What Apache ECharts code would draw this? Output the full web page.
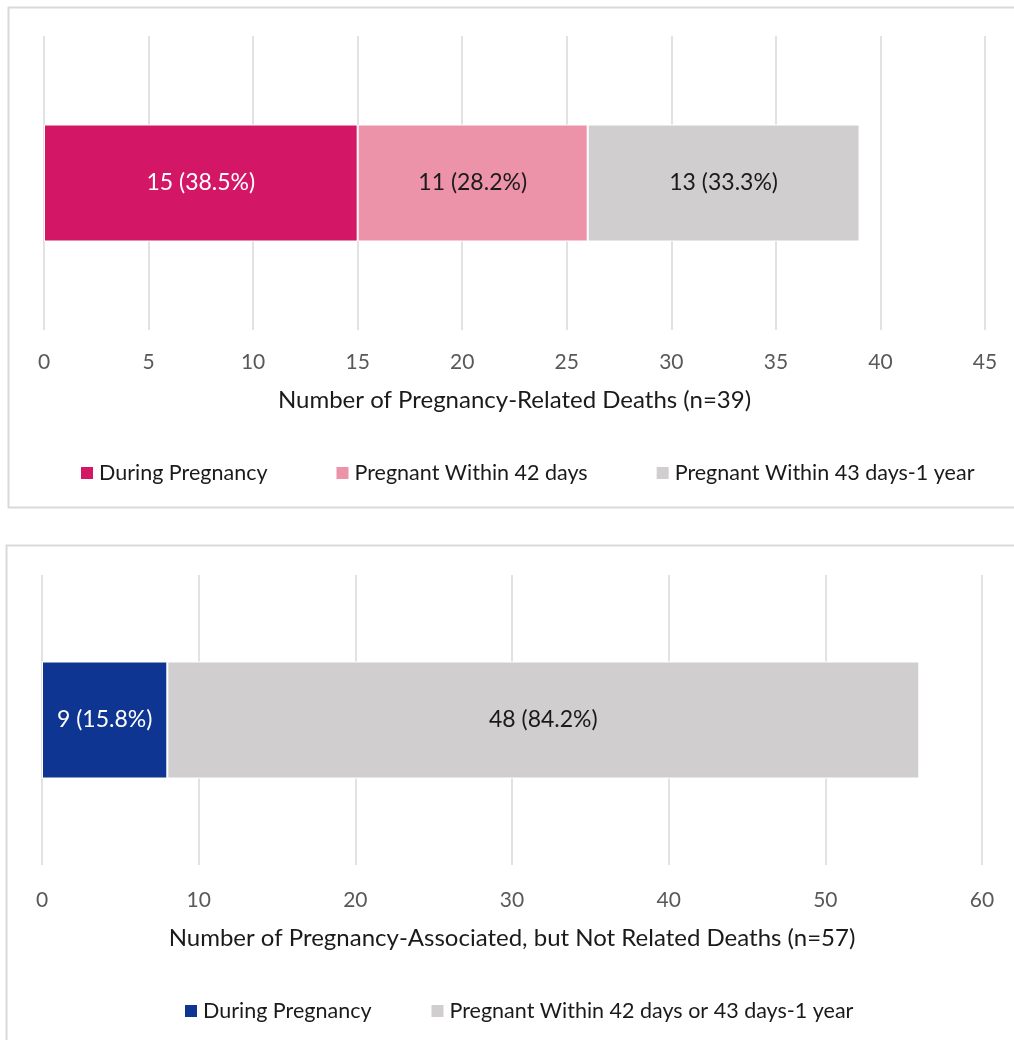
<!DOCTYPE html>
<html>
<head>
<meta charset="utf-8">
<script src="https://cdn.jsdelivr.net/npm/echarts@6/dist/echarts.min.js"></script>
<style>
html,body{margin:0;padding:0;background:#fff;}
#c{width:1014px;height:1040px;}
</style>
</head>
<body>
<div id="c"></div>
<script>
// ---- Data ----
const topSeriesNames = ['During Pregnancy', 'Pregnant Within 42 days', 'Pregnant Within 43 days-1 year'];
const topValues = [15, 11, 13];
const topLabels = ['15 (38.5%)', '11 (28.2%)', '13 (33.3%)'];
const topAxisTicks = [0, 5, 10, 15, 20, 25, 30, 35, 40, 45];
const topAxisTitle = 'Number of Pregnancy-Related Deaths (n=39)';

const bottomSeriesNames = ['During Pregnancy', 'Pregnant Within 42 days or 43 days-1 year'];
const bottomValues = [8, 48];
const bottomLabels = ['9 (15.8%)', '48 (84.2%)'];
const bottomAxisTicks = [0, 10, 20, 30, 40, 50, 60];
const bottomAxisTitle = 'Number of Pregnancy-Associated, but Not Related Deaths (n=57)';

const topColors = ['#D31766', '#EC92A9', '#D0CECF'];
const topLabelColors = ['#ffffff', '#1a1a1a', '#1a1a1a'];
const bottomColors = ['#0F3592', '#D0CECF'];
const bottomLabelColors = ['#ffffff', '#1a1a1a'];

const FONT = 'Lato, "Open Sans", sans-serif';

const chart = echarts.init(document.getElementById('c'), null, {renderer: 'canvas'});

function xAxisFor(ticks, gridIndex, title, margin, nameGap) {
  return {
    type: 'value', gridIndex: gridIndex,
    min: ticks[0], max: ticks[ticks.length - 1], interval: ticks[1] - ticks[0],
    axisLine: {show: false}, axisTick: {show: false},
    splitLine: {show: true, lineStyle: {color: '#D9D9D9', width: 1.5}},
    axisLabel: {color: '#595959', fontSize: 21, fontFamily: FONT, margin: margin},
    name: title, nameLocation: 'middle', nameGap: nameGap,
    nameTextStyle: {color: '#1a1a1a', fontSize: 24, fontFamily: FONT}
  };
}

function seriesFor(names, values, labels, colors, labelColors, idx) {
  return names.map((n, i) => ({
    name: n, type: 'bar', stack: 's' + idx,
    xAxisIndex: idx, yAxisIndex: idx,
    barWidth: 117,
    data: [values[i]],
    itemStyle: {color: colors[i], borderColor: '#ffffff', borderWidth: 1},
    label: {show: true, position: 'inside', formatter: labels[i],
      color: labelColors[i], fontSize: 23, fontFamily: FONT},
    emphasis: {disabled: true}
  }));
}

function legendFor(names, colors, top, left, gap) {
  return {
    data: names.map((n, i) => ({name: n, itemStyle: {color: colors[i]}})),
    top: top, left: left, icon: 'rect', itemWidth: 14, itemHeight: 14,
    itemGap: gap, textStyle: {color: '#1a1a1a', fontSize: 21.5, fontFamily: FONT},
    selectedMode: false, padding: 0
  };
}

const option = {
  animation: false,
  backgroundColor: '#ffffff',
  graphic: [
    {type: 'rect', shape: {x: 8.5, y: 7.5, width: 1010, height: 500},
     style: {fill: 'none', stroke: '#D9D9D9', lineWidth: 2}, z: -1},
    {type: 'rect', shape: {x: 6.5, y: 545.5, width: 1012, height: 500},
     style: {fill: 'none', stroke: '#D9D9D9', lineWidth: 2}, z: -1}
  ],
  grid: [
    {left: 44, right: 29, top: 36, height: 294},
    {left: 42, right: 32, top: 575, height: 290}
  ],
  legend: [
    legendFor(topSeriesNames, topColors, 462, 79, 67),
    legendFor(bottomSeriesNames, bottomColors, 1000, 183, 58)
  ],
  xAxis: [
    xAxisFor(topAxisTicks, 0, topAxisTitle, 22, 58),
    xAxisFor(bottomAxisTicks, 1, bottomAxisTitle, 25, 61)
  ],
  yAxis: [
    {type: 'category', gridIndex: 0, data: [''], show: false},
    {type: 'category', gridIndex: 1, data: [''], show: false}
  ],
  series: [].concat(
    seriesFor(topSeriesNames, topValues, topLabels, topColors, topLabelColors, 0),
    seriesFor(bottomSeriesNames, bottomValues, bottomLabels, bottomColors, bottomLabelColors, 1)
  )
};
chart.setOption(option);
</script>
</body>
</html>
